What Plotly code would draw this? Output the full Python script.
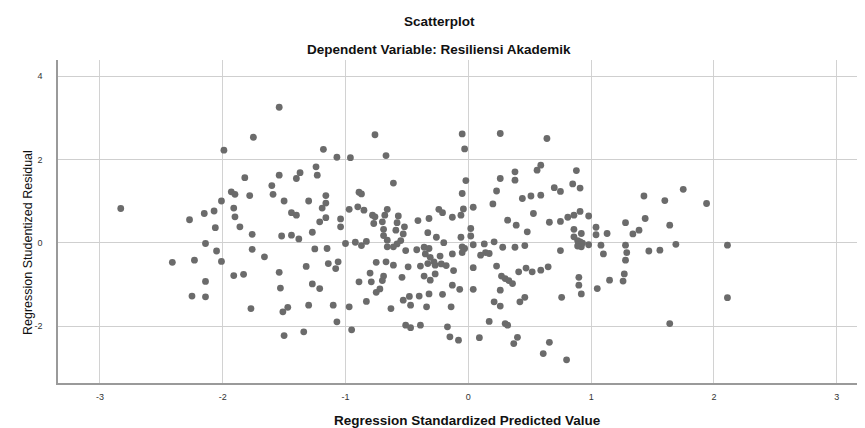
import plotly.graph_objects as go

title_main = "Scatterplot"
title_sub = "Dependent Variable: Resiliensi Akademik"
x_title = "Regression Standardized Predicted Value"
y_title = "Regression Studentized Residual"

x_ticks = [-3, -2, -1, 0, 1, 2, 3]
y_ticks = [-2, 0, 2, 4]

# Regression standardized predicted value
pred = [
    -1.54, -1.75, -1.99, -1.18, -0.76, -1.07, -0.96, -1.24, -1.23, -1.37, -1.40, -1.54, -1.82, -1.60, -1.59,
    -1.93, -1.90, -1.78, -1.16, -0.89, -0.87,
    -2.83, -2.01, -1.91, -1.90, -2.07, -2.15, -2.27, -2.06, -1.86, -1.76, -2.14, -2.05, -2.01, -2.23, -2.41,
    -1.76, -1.66, -1.91, -1.83, -2.14, -2.25, -2.14, -1.77, -1.54, -1.53, -1.51, -1.47, -1.50, -1.34, -1.50,
    -1.30, -1.19, -1.16, -1.44, -1.40, -1.21, -1.16, -1.52, -1.44, -1.38, -1.27, -1.25, -1.15, -1.32, -1.14,
    -1.06, -1.08, -1.27, -1.21, -1.30, -1.10, -0.97, -1.07, -0.95, -1.04, -1.04, -0.97, -0.90, -0.85, -0.78,
    -0.76, -0.77, -1.00, -0.92, -0.87, -0.83, -0.75, -0.80, -0.89, -0.79, -0.75, -0.72, -0.83,
    -0.67, -0.05, -0.03, 0.26, 0.64, -0.61, -0.02, -0.05, 0.26, 0.23, 0.38, 0.38, 0.56, 0.59, 0.88, 0.85,
    0.91, 0.70, 0.75, 0.44, 0.51, 0.59, 1.43,
    1.75, 1.94, 2.11, 2.11,
    -0.66, -0.68, -0.57, -0.70, -0.58, -0.52, -0.69, -0.59, -0.53, -0.69, -0.66, -0.55, -0.58, -0.61, -0.66,
    -0.51, -0.67, -0.61, -0.49, -0.69, -0.70, -0.54,
    -0.41, -0.32, -0.24, -0.21, -0.13, -0.06, -0.04, 0.04, 0.20,
    -0.33, -0.26, -0.20, -0.42, -0.36, -0.32, -0.35, -0.31, -0.28, -0.23, -0.22, -0.13, -0.18, -0.39, -0.33, -0.27,
    -0.06, 0.02, 0.02, -0.05, -0.03, 0.04, -0.05,
    0.13, 0.21, 0.10, 0.14, 0.17, 0.28, 0.38, 0.46,
    0.32, 0.39, 0.48, 0.53, 0.66, 0.75, 0.81, 0.86, 0.91, 0.98,
    0.86, 0.92, 0.86, 0.91, 0.89, 0.92, 0.98, 0.90, 1.04, 1.04, 1.13, 1.08, 1.10, 0.75, 0.89, 0.93,
    1.28, 1.44, 1.64, 1.34, 1.39, 1.28, 1.29, 1.28, 1.47, 1.56, 1.69, 1.60,
    -0.12, -0.36, -0.31, -0.27,
    0.04, 0.23, 0.41, 0.47, 0.52, 0.59, 0.65,
    0.27, 0.30, 0.33, 0.36,
    -0.13, -0.07, 0.04, 0.26, -0.32, -0.40, -0.48, -0.53, -0.47, -0.34, -0.14, -0.21, -0.63,
    0.21, 0.26, 0.42, 0.46, 0.76, 0.90, 0.90, 0.92, 1.05, 1.15, 1.27, 1.26,
    -0.51, -0.47, -0.39, -0.17, -0.15, -0.08, 0.09, 0.17, 0.30, 0.32, 0.40, 0.37, 0.66, 0.61, 0.80, 1.64,
]

# Regression studentized residual
resid = [
    3.25, 2.53, 2.22, 2.24, 2.59, 2.05, 2.04, 1.82, 1.62, 1.68, 1.54, 1.62, 1.56, 1.37, 1.16,
    1.22, 1.16, 1.13, 1.13, 1.21, 1.17,
    0.82, 1.00, 0.83, 0.62, 0.76, 0.70, 0.55, 0.36, 0.38, 0.20, -0.02, -0.20, -0.45, -0.42, -0.47,
    -0.16, -0.34, -0.79, -0.76, -0.93, -1.28, -1.30, -1.58, -0.71, -1.09, -1.66, -1.55, -2.23, -2.14, 1.00,
    1.00, 0.83, 0.95, 0.72, 0.66, 0.50, 0.60, 0.16, 0.18, 0.09, 0.25, -0.15, -0.14, -0.57, -0.50,
    -0.46, -0.62, -0.99, -1.10, -1.50, -1.50, -1.54, -1.90, -2.09, 0.57, 0.38, 0.80, 0.86, 0.78, 0.66,
    0.62, 0.46, -0.02, 0.01, -0.07, 0.03, -0.47, -0.73, -0.94, -0.94, -1.19, -1.11, -1.41,
    2.09, 2.61, 2.25, 2.62, 2.50, 1.43, 1.49, 1.18, 1.54, 1.24, 1.70, 1.50, 1.74, 1.86, 1.73, 1.41,
    1.31, 1.32, 1.23, 1.06, 1.12, 1.14, 1.12,
    1.28, 0.94, -0.06, -1.32,
    0.80, 0.66, 0.64, 0.50, 0.48, 0.38, 0.32, 0.30, 0.21, 0.17, 0.06, 0.05, -0.03, -0.10, -0.10,
    -0.19, -0.46, -0.54, -0.58, -0.80, -0.91, -0.83,
    0.53, 0.58, 0.80, 0.72, 0.61, 0.66, 0.81, 0.85, 0.93,
    0.24, 0.13, 0.00, -0.17, -0.11, -0.14, -0.27, -0.35, -0.46, -0.32, -0.51, -0.27, -0.55, -0.56, -0.50, -0.54,
    0.13, 0.34, 0.16, -0.10, -0.14, -0.05, -0.24,
    -0.03, 0.02, -0.30, -0.24, -0.26, -0.11, -0.11, -0.07,
    0.54, 0.42, 0.26, 0.70, 0.49, 0.51, 0.61, 0.66, 0.75, 0.64,
    0.32, 0.22, 0.14, 0.02, -0.08, -0.10, -0.05, -0.03, 0.37, 0.19, 0.22, -0.06, -0.27, -0.19, 0.05, -0.01,
    0.48, 0.58, 0.42, 0.21, 0.30, -0.06, -0.24, -0.42, -0.20, -0.18, -0.04, 1.01,
    -0.67, -0.80, -0.90, -0.75,
    -0.60, -0.56, -0.70, -0.61, -0.70, -0.66, -0.58,
    -0.80, -0.86, -0.91, -0.98,
    -1.02, -1.12, -1.12, -1.14, -1.23, -1.28, -1.29, -1.38, -1.50, -1.54, -1.54, -1.24, -1.58,
    -1.42, -1.52, -1.42, -1.31, -1.31, -0.83, -1.02, -1.23, -1.10, -0.90, -0.75, -0.92,
    -1.98, -2.04, -1.98, -2.02, -2.26, -2.34, -2.28, -1.89, -1.94, -1.98, -2.27, -2.42, -2.39, -2.66, -2.81, -1.94,
]

FONT = "Liberation Sans, Arial, sans-serif"

fig = go.Figure()
fig.add_trace(go.Scatter(
    x=pred, y=resid, mode="markers",
    marker=dict(size=6.8, color="#6b6b6b", line=dict(width=0)),
    hoverinfo="x+y", showlegend=False,
))

# page body adds an 8px offset, so the figure is sized 8px smaller
fig.update_layout(
    width=857, height=420,
    margin=dict(l=50, r=0, t=52, b=45, autoexpand=False),
    paper_bgcolor="white", plot_bgcolor="white",
    font=dict(family=FONT, color="#222222"),
    xaxis=dict(
        range=[-3.341, 3.230], tickmode="array", tickvals=x_ticks,
        ticktext=[str(v) for v in x_ticks], automargin=False,
        showgrid=True, gridcolor="#d2d2d2", gridwidth=1.4,
        zeroline=False, showline=True, linecolor="#9a9a9a", linewidth=1.5,
        ticks="outside", ticklen=4, tickcolor="rgba(0,0,0,0)",
        tickfont=dict(size=9, family=FONT, color="#333333"),
    ),
    yaxis=dict(
        range=[-3.367, 4.384], tickmode="array", tickvals=y_ticks,
        ticktext=[str(v) for v in y_ticks], automargin=False,
        showgrid=True, gridcolor="#cfcfcf", gridwidth=1.2,
        zeroline=False, showline=True, linecolor="#9a9a9a", linewidth=1.5,
        ticks="outside", ticklen=12, tickcolor="rgba(0,0,0,0)",
        tickfont=dict(size=9, family=FONT, color="#333333"),
    ),
    annotations=[
        dict(text="<b>" + title_main + "</b>", xref="paper", yref="paper", x=0.473, y=1.118,
             showarrow=False, font=dict(size=13.5, family=FONT, color="#111111"),
             xanchor="center", yanchor="middle"),
        dict(text="<b>" + title_sub + "</b>", xref="paper", yref="paper", x=0.472, y=1.031,
             showarrow=False, font=dict(size=13.5, family=FONT, color="#111111"),
             xanchor="center", yanchor="middle"),
        dict(text="<b>" + x_title + "</b>", xref="paper", yref="paper", x=0.507, y=-0.115,
             showarrow=False, font=dict(size=13.5, family=FONT, color="#111111"),
             xanchor="center", yanchor="middle"),
        dict(text=y_title, xref="paper", yref="paper", x=-0.0372, y=0.4365, textangle=-90,
             showarrow=False, font=dict(size=12.5, family=FONT, color="#111111"),
             xanchor="center", yanchor="middle"),
    ],
)

fig.write_html("out.html")
